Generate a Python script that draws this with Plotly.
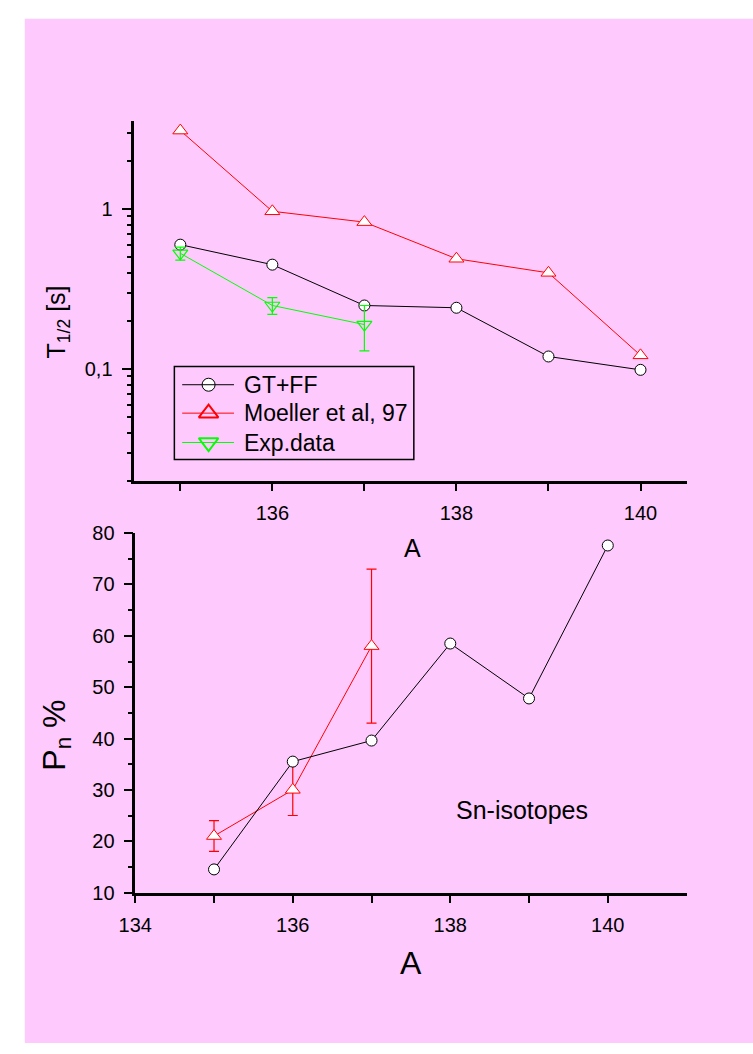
import plotly.graph_objects as go

# ---- data -------------------------------------------------------------
mass_number = [135, 136, 137, 138, 139, 140]

# half-lives T1/2 [s]
t_gtff = [0.60, 0.45, 0.25, 0.242, 0.12, 0.099]
t_moeller = [3.1, 0.97, 0.83, 0.49, 0.40, 0.122]
mass_exp = [135, 136, 137]
t_exp = [0.53, 0.25, 0.19]
t_exp_err = [0.05, 0.03, 0.06]

# delayed-neutron emission probability Pn [%]
pn_gtff = [14.5, 35.5, 39.6, 58.5, 47.8, 77.6]
pn_exp = [21, 30, 58]
pn_exp_err = [3, 5, 15]

legend_names = ["GT+FF", "Moeller et al, 97", "Exp.data"]

# ---- styling ----------------------------------------------------------
W, H = 753, 1054
PINK = "#FECAFE"
FONT = "Liberation Sans, Arial, sans-serif"
BLACK, RED, GREEN = "#000000", "#FF0000", "#00FF00"


def px(x):
    """page x pixel -> paper fraction"""
    return x / W


def py(y):
    """page y pixel -> paper fraction"""
    return 1 - y / H


fig = go.Figure()

# top panel: half-lives
fig.add_trace(go.Scatter(
    x=mass_number, y=t_gtff, mode="lines+markers", xaxis="x", yaxis="y",
    line=dict(color=BLACK, width=1),
    marker=dict(symbol="circle", size=11, color="white", line=dict(color=BLACK, width=1)),
    showlegend=False))
fig.add_trace(go.Scatter(
    x=mass_number, y=t_moeller, mode="lines+markers", xaxis="x", yaxis="y",
    line=dict(color=RED, width=1),
    marker=dict(symbol="triangle-up", size=13, color="white", line=dict(color=RED, width=1)),
    showlegend=False))
fig.add_trace(go.Scatter(
    x=mass_exp, y=t_exp, mode="lines+markers", xaxis="x", yaxis="y",
    line=dict(color=GREEN, width=1),
    marker=dict(symbol="triangle-down", size=13, color="rgba(0,0,0,0)",
                line=dict(color=GREEN, width=1.2)),
    error_y=dict(type="data", array=t_exp_err, color=GREEN, thickness=1.2, width=5),
    showlegend=False))

# bottom panel: Pn
fig.add_trace(go.Scatter(
    x=mass_exp, y=pn_exp, mode="lines+markers", xaxis="x2", yaxis="y2",
    line=dict(color=RED, width=1),
    marker=dict(symbol="triangle-up", size=13, color="white", line=dict(color=RED, width=1)),
    error_y=dict(type="data", array=pn_exp_err, color=RED, thickness=1.2, width=5),
    showlegend=False))
fig.add_trace(go.Scatter(
    x=mass_number, y=pn_gtff, mode="lines+markers", xaxis="x2", yaxis="y2",
    line=dict(color=BLACK, width=1),
    marker=dict(symbol="circle", size=11, color="white", line=dict(color=BLACK, width=1)),
    showlegend=False))

# ---- hand-built legend box (page-pixel overlay axis) -------------------
leg_rows = [381.7, 410.7, 440.7]
leg_styles = [
    dict(color=BLACK, symbol="circle", size=13, fill="white", lw=1),
    dict(color=RED, symbol="triangle-up", size=17, fill="rgba(0,0,0,0)", lw=2),
    dict(color=GREEN, symbol="triangle-down", size=17, fill="rgba(0,0,0,0)", lw=2),
]
shapes = [
    # pink page panel with a thin white border at top and left
    dict(type="rect", xref="paper", yref="paper", x0=px(8), x1=1, y0=0, y1=py(8),
         line=dict(width=0), fillcolor=PINK, layer="below"),
    dict(type="rect", xref="paper", yref="paper",
         x0=px(161), x1=px(406), y0=py(458), y1=py(363),
         line=dict(color=BLACK, width=1.5), fillcolor="rgba(0,0,0,0)"),
]
annotations = []
for row, name, st in zip(leg_rows, legend_names, leg_styles):
    shapes.append(dict(type="line", xref="paper", yref="paper",
                       x0=px(169), x1=px(222), y0=py(row), y1=py(row),
                       line=dict(color=st["color"], width=1)))
    fig.add_trace(go.Scatter(
        x=[196], y=[row], mode="markers", xaxis="x3", yaxis="y3",
        marker=dict(symbol=st["symbol"], size=st["size"], color=st["fill"],
                    line=dict(color=st["color"], width=st["lw"])),
        showlegend=False, hoverinfo="skip"))
    annotations.append(dict(text=name, xref="paper", yref="paper",
                            x=px(230), y=py(row), xanchor="left", yanchor="middle",
                            showarrow=False, font=dict(family=FONT, size=23, color=BLACK)))

# axis titles and label
annotations += [
    dict(text="A", x=px(405), y=py(548), font=dict(size=25)),
    dict(text="A", x=px(403), y=py(972), font=dict(size=32)),
    dict(text="T<sub>1/2</sub> [s]", x=px(42), y=py(318), textangle=-90, font=dict(size=25)),
    dict(text="P<sub>n</sub> %", x=px(40), y=py(740), textangle=-90, font=dict(size=32)),
    dict(text="Sn-isotopes", x=px(517), y=py(816), font=dict(size=25)),
]
for a in annotations[-5:]:
    a.update(xref="paper", yref="paper", xanchor="center", yanchor="middle", showarrow=False)
    a["font"].update(family=FONT, color=BLACK)

axis_common = dict(showline=True, linecolor=BLACK, linewidth=2.5, showgrid=False,
                   zeroline=False, ticks="outside", tickcolor=BLACK, tickwidth=2,
                   tickfont=dict(family=FONT, size=20, color=BLACK), mirror=False,
                   ticklabelstandoff=5)


def minor_ticks(vals, length):
    return dict(tickmode="array", tickvals=vals, ticks="outside",
                ticklen=length, tickwidth=2, tickcolor=BLACK)


top_minor = [0.02, 0.03, 0.04, 0.05, 0.06, 0.07, 0.08, 0.09,
             0.2, 0.3, 0.4, 0.5, 0.6, 0.7, 0.8, 0.9, 2, 3]

fig.update_layout(
    width=W, height=H, margin=dict(l=0, r=0, t=0, b=0),
    paper_bgcolor="white", plot_bgcolor="rgba(0,0,0,0)",
    shapes=shapes, annotations=annotations,
    xaxis=dict(axis_common, domain=[px(120), px(685)], range=[134.5, 140.5],
               anchor="y", tickmode="array", tickvals=[136, 138, 140], ticklen=7,
               minor=minor_ticks([135, 137, 139], 7)),
    yaxis=dict(axis_common, domain=[py(480), py(112.7)], type="log",
               range=[-1.699, 0.549], anchor="x", tickmode="array",
               tickvals=[0.1, 1], ticktext=["0,1", "1"], ticklen=10,
               minor=minor_ticks(top_minor, 5)),
    xaxis2=dict(axis_common, domain=[px(121), px(685)], range=[134, 141],
                anchor="y2", tickmode="array", tickvals=[134, 136, 138, 140], ticklen=8,
                minor=minor_ticks([135, 137, 139], 8)),
    yaxis2=dict(axis_common, domain=[py(900.3), py(533.3)], range=[10, 80],
                anchor="x2", tickmode="array", tickvals=[10, 20, 30, 40, 50, 60, 70, 80],
                ticklen=9, minor=minor_ticks([15, 25, 35, 45, 55, 65, 75], 5)),
    xaxis3=dict(domain=[0, 1], range=[0, W], visible=False, anchor="y3", fixedrange=True),
    yaxis3=dict(domain=[0, 1], range=[H, 0], visible=False, anchor="x3", fixedrange=True),
)

fig.write_html("out.html")
